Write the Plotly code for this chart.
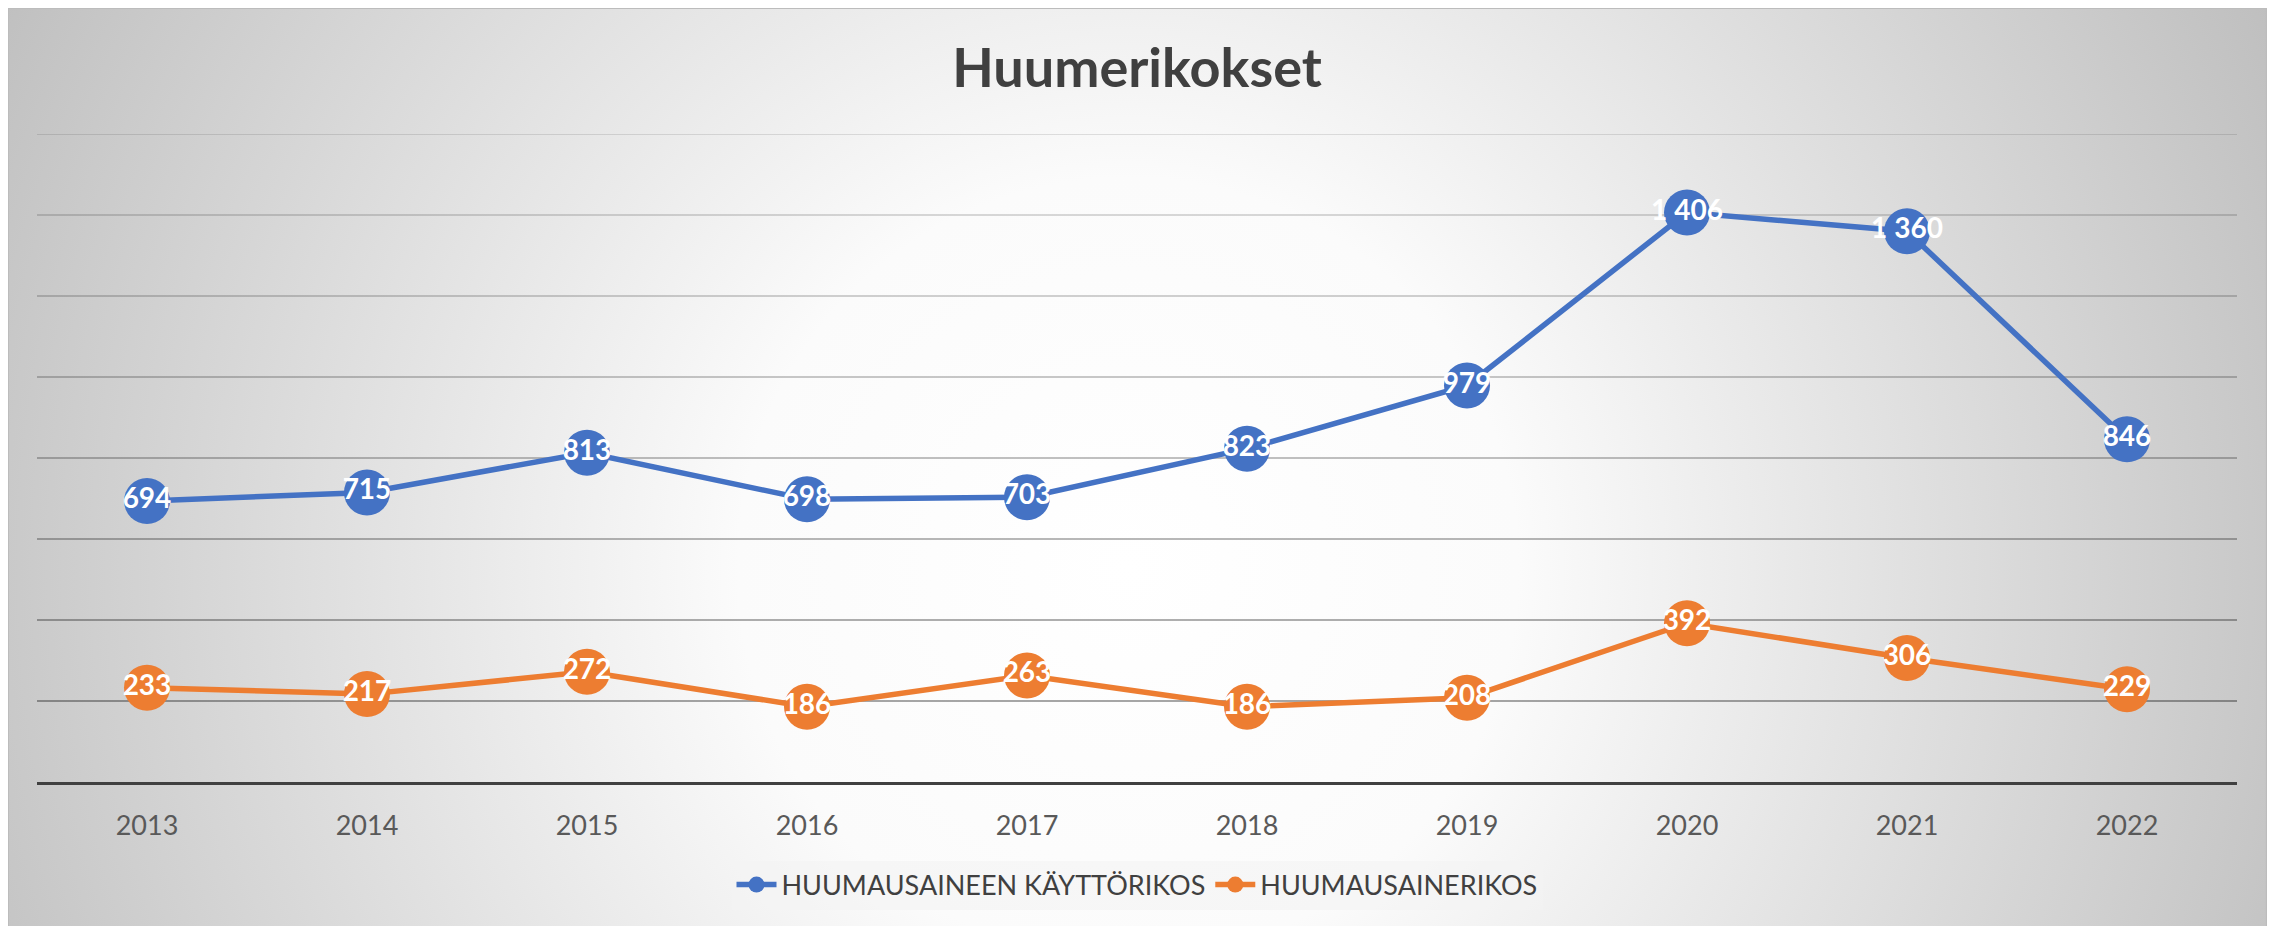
import plotly.graph_objects as go
import urllib.parse

years = ["2013", "2014", "2015", "2016", "2017", "2018", "2019", "2020", "2021", "2022"]
kayttorikos = [694, 715, 813, 698, 703, 823, 979, 1406, 1360, 846]
huumausainerikos = [233, 217, 272, 186, 263, 186, 208, 392, 306, 229]
series_names = ["HUUMAUSAINEEN KÄYTTÖRIKOS", "HUUMAUSAINERIKOS"]
colors = ["#4472C4", "#ED7D31"]
title_text = "Huumerikokset"
grid_values = [200, 400, 600, 800, 1000, 1200, 1400, 1600]

W, H = 2260, 920
ml, mr, mt, mb = 29, 31, 126, 146
pw, ph = W - ml - mr, H - mt - mb


def fmt(v):
    return f"{v:,}".replace(",", " ")


fig = go.Figure()
for name, vals, col in zip(series_names, [kayttorikos, huumausainerikos], colors):
    fig.add_trace(go.Scatter(
        x=years, y=vals, name=name,
        mode="lines+markers+text",
        line=dict(color=col, width=5.5),
        marker=dict(color=col, size=46),
        text=[fmt(v) for v in vals],
        textposition="middle center",
        textfont=dict(family="Lato", size=28, color="white", weight="bold"),
        cliponaxis=False,
    ))

svg = (
    '<svg xmlns="http://www.w3.org/2000/svg" width="2260" height="920" viewBox="0 0 2260 920" preserveAspectRatio="none">'
    '<defs><radialGradient id="g" gradientUnits="userSpaceOnUse" cx="1120" cy="560" r="1300">'
    '<stop offset="0" stop-color="#ffffff"/>'
    '<stop offset="0.3" stop-color="#fbfbfb"/>'
    '<stop offset="1" stop-color="#bdbdbd"/>'
    '</radialGradient></defs>'
    '<rect width="2260" height="920" fill="url(#g)"/></svg>'
)
src = "data:image/svg+xml;charset=utf-8," + urllib.parse.quote(svg)

shapes = []
for v in grid_values:
    a = 0.38 - 0.27 * (v / 1600)
    shapes.append(dict(type="line", xref="paper", yref="y", x0=0, x1=1, y0=v, y1=v,
                       line=dict(color=f"rgba(0,0,0,{a:.3f})", width=2), layer="below"))
shapes.append(dict(type="rect", xref="paper", yref="paper",
                   x0=-ml / pw, x1=(W - ml) / pw - 0.0005, y0=-mb / ph - 0.01, y1=1 + mt / ph,
                   line=dict(color="#bcbcbc", width=2), layer="above"))

fig.update_layout(
    width=W, height=H,
    margin=dict(l=ml, r=mr, t=mt, b=mb),
    paper_bgcolor="white",
    plot_bgcolor="rgba(0,0,0,0)",
    images=[dict(source=src, xref="paper", yref="paper", x=-ml / pw, y=1 + mt / ph,
                 sizex=W / pw, sizey=H / ph, xanchor="left", yanchor="top",
                 sizing="stretch", layer="below")],
    shapes=shapes,
    title=dict(text=title_text, x=0.5, xanchor="center", y=1 - 60 / H, yanchor="middle",
               xref="paper", yref="container",
               font=dict(family="Lato", size=54, color="#404040", weight="bold")),
    xaxis=dict(type="category", range=[-0.5, 9.5], showgrid=False,
               showline=True, linecolor="#404040", linewidth=3,
               ticks="", tickfont=dict(family="Lato", size=27, color="#595959"),
               ticklabelstandoff=18, fixedrange=True),
    yaxis=dict(range=[0, 1600], showgrid=False, zeroline=False, showticklabels=False,
               showline=False, fixedrange=True),
    legend=dict(orientation="h", x=0.5, xanchor="center", y=-(877 - 774) / ph, yanchor="middle",
                font=dict(family="Lato", size=27, color="#404040"),
                bgcolor="rgba(244,244,244,0.6)", itemwidth=40),
    showlegend=True,
)

fig.write_html("out.html")
